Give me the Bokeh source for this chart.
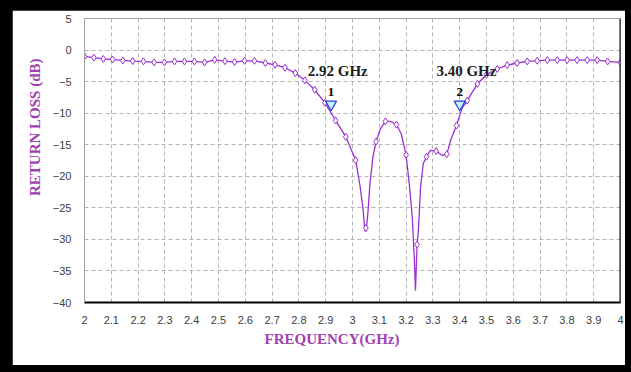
from bokeh.plotting import figure
from bokeh.layouts import column
from bokeh.models import FixedTicker, Span, CustomJSTickFormatter, Title
from bokeh.core.properties import value
from bokeh.embed import file_html
from bokeh.resources import INLINE

# ---- data ----
freq_line = [2.000, 2.035, 2.070, 2.105, 2.143, 2.180, 2.220, 2.260, 2.298, 2.336,
             2.373, 2.410, 2.448, 2.486, 2.524, 2.560, 2.597, 2.634, 2.675, 2.711,
             2.748, 2.787, 2.822, 2.859, 2.897, 2.937, 2.975, 3.012, 3.028, 3.040,
             3.046, 3.052, 3.058, 3.065, 3.076, 3.088, 3.104, 3.123, 3.142, 3.164,
             3.182, 3.200, 3.213, 3.223, 3.231, 3.235, 3.241, 3.245, 3.249, 3.254,
             3.264, 3.276, 3.291, 3.312, 3.335, 3.352, 3.366, 3.388, 3.409, 3.428,
             3.466, 3.500, 3.540, 3.577, 3.614, 3.652, 3.689, 3.727, 3.764, 3.801,
             3.838, 3.876, 3.913, 3.952, 4.000]
db_line = [-1.0, -1.2, -1.4, -1.5, -1.65, -1.75, -1.8, -1.95, -1.95, -1.8,
           -1.8, -1.8, -1.95, -1.55, -1.75, -1.9, -1.7, -1.7, -2.05, -2.35,
           -2.8, -3.65, -4.8, -6.3, -8.35, -11.15, -13.75, -17.45, -21.5, -25.4,
           -28.7, -28.3, -25.5, -21.2, -17.0, -14.5, -12.5, -11.3, -11.3, -11.8,
           -13.3, -16.6, -21.7, -26.5, -33.3, -38.1, -30.8, -29.1, -26.0, -21.7,
           -18.0, -16.9, -15.9, -16.0, -16.7, -16.5, -14.3, -11.95, -9.2, -8.0,
           -5.35, -3.9, -3.0, -2.4, -2.05, -1.8, -1.68, -1.6, -1.6, -1.6,
           -1.6, -1.6, -1.6, -1.8, -1.95]

freq_mk = [2.000, 2.035, 2.070, 2.105, 2.143, 2.180, 2.220, 2.260, 2.298, 2.336,
           2.373, 2.410, 2.448, 2.486, 2.524, 2.560, 2.597, 2.634, 2.675, 2.711,
           2.748, 2.787, 2.822, 2.859, 2.897, 2.937, 2.975, 3.012, 3.050, 3.088,
           3.123, 3.164, 3.200, 3.241, 3.276, 3.312, 3.352, 3.388, 3.428, 3.466,
           3.500, 3.540, 3.577, 3.614, 3.652, 3.689, 3.727, 3.764, 3.801, 3.838,
           3.876, 3.913, 3.952, 4.000]
db_mk = [-1.0, -1.2, -1.4, -1.5, -1.65, -1.75, -1.8, -1.95, -1.95, -1.8,
         -1.8, -1.8, -1.95, -1.55, -1.75, -1.9, -1.7, -1.7, -2.05, -2.35,
         -2.8, -3.65, -4.8, -6.3, -8.35, -11.15, -13.75, -17.45, -28.2, -14.5,
         -11.3, -11.8, -16.6, -30.8, -16.9, -16.0, -16.5, -11.95, -8.0, -5.35,
         -3.9, -3.0, -2.4, -2.05, -1.8, -1.68, -1.6, -1.6, -1.6, -1.6,
         -1.6, -1.6, -1.8, -1.95]

marker_freq = [2.92, 3.40]
marker_db = [-8.6, -8.6]
marker_ids = ["1", "2"]
marker_text = ["2.92 GHz", "3.40 GHz"]

x_ticks = [2.0, 2.1, 2.2, 2.3, 2.4, 2.5, 2.6, 2.7, 2.8, 2.9, 3.0,
           3.1, 3.2, 3.3, 3.4, 3.5, 3.6, 3.7, 3.8, 3.9, 4.0]
y_ticks = [5, 0, -5, -10, -15, -20, -25, -30, -35, -40]

x_title = "FREQUENCY(GHz)"
y_title = "RETURN LOSS (dB)"

LINE = "#9b30d0"
TITLE_C = "#a040b0"

p = figure(width=613, height=355, x_range=(2, 4), y_range=(-40, 5),
           output_backend="svg", toolbar_location=None,
           min_border_left=72, min_border_right=5, min_border_top=8, min_border_bottom=63,
           background_fill_color="white", border_fill_color="white")

p.outline_line_color = "#a0a0a0"
p.xgrid.ticker = FixedTicker(ticks=x_ticks)
p.ygrid.ticker = FixedTicker(ticks=y_ticks)
for g in (p.xgrid, p.ygrid):
    g.grid_line_color = "#b4b4b4"
    g.grid_line_dash = "4 3"
    g.grid_line_width = 1

p.xaxis.ticker = FixedTicker(ticks=x_ticks)
p.yaxis.ticker = FixedTicker(ticks=y_ticks)
p.xaxis.formatter = CustomJSTickFormatter(code="return (Math.round(tick*10)/10).toString();")
for ax in (p.xaxis[0], p.yaxis[0]):
    ax.major_tick_line_color = None
    ax.minor_tick_line_color = None
    ax.major_label_text_font = "Liberation Sans"
    ax.major_label_text_font_size = "11px"
    ax.major_label_text_color = "#404040"
p.xaxis.axis_line_color = "black"
p.xaxis.axis_line_width = 2
p.xaxis.major_label_standoff = 7
p.yaxis.axis_line_color = "#a0a0a0"
p.yaxis.major_label_standoff = 7

p.add_layout(Span(location=4, dimension="height", line_color="black", line_width=2))

p.line(freq_line, db_line, line_color=LINE, line_width=1.3)
p.scatter(freq_mk, db_mk, marker="diamond", size=7, line_color=LINE,
          fill_color="white", line_width=1)

p.scatter(marker_freq, marker_db, marker="inverted_triangle", size=11,
          line_color="#2040d0", fill_color="#c8f0ff", line_width=1.2)
p.text(marker_freq, [v + 1.9 for v in marker_db], text=marker_ids,
       text_font=value("Liberation Serif"), text_font_style="bold",
       text_font_size="13px", text_align="center", text_baseline="middle",
       text_color="black")
p.text([f + 0.025 for f in marker_freq], [v + 5.3 for v in marker_db], text=marker_text,
       text_font=value("Liberation Serif"), text_font_style="bold",
       text_font_size="15px", text_align="center", text_baseline="middle",
       text_color="#202020")

# axis titles
p.add_layout(Title(text=y_title, align="right", offset=40, standoff=13,
                   text_font="Liberation Serif", text_font_style="bold",
                   text_font_size="15px", text_color=TITLE_C), "left")
p.add_layout(Title(text=x_title, align="left", offset=180, standoff=5,
                   text_font="Liberation Serif", text_font_style="bold",
                   text_font_size="15px", text_color=TITLE_C), "below")

layout = column(p, width=631, height=372,
                styles={"background-color": "black",
                        "padding": "10px 6px 7px 12px",
                        "box-sizing": "border-box"})

open("out.html", "w").write(file_html(layout, INLINE))
